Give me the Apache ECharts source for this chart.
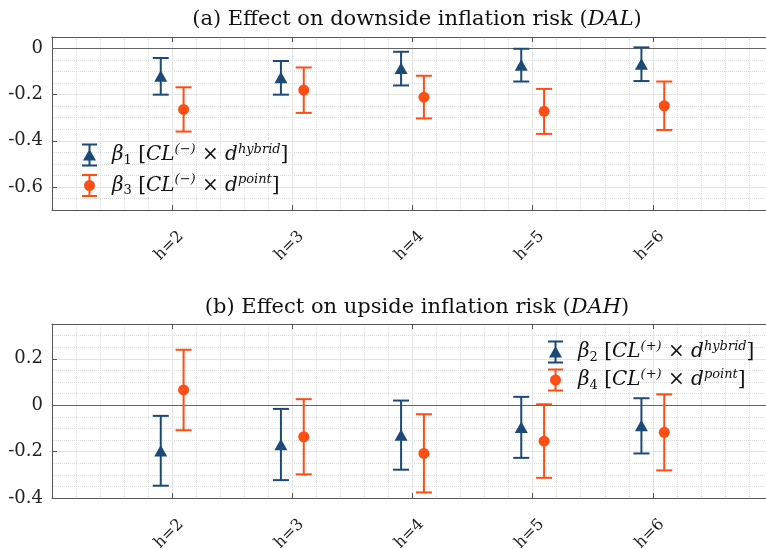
<!DOCTYPE html>
<html>
<head>
<meta charset="utf-8">
<script src="https://cdn.jsdelivr.net/npm/echarts@6/dist/echarts.min.js"></script>
<style>
  html, body { margin: 0; padding: 0; background: #ffffff; }
  #chart { width: 766px; height: 549px; }
</style>
</head>
<body>
<div id="chart"></div>
<script>
// ---------- data ----------
const horizons = [2, 3, 4, 5, 6];
const hLabels = ['h=2', 'h=3', 'h=4', 'h=5', 'h=6'];

// Panel (a): downside inflation risk (DAL)
const b1Est = [-0.120, -0.127, -0.087, -0.072, -0.068];
const b1Lo  = [-0.200, -0.200, -0.160, -0.143, -0.141];
const b1Hi  = [-0.041, -0.054, -0.014, -0.001, 0.005];
const b3Est = [-0.264, -0.180, -0.211, -0.272, -0.248];
const b3Lo  = [-0.360, -0.279, -0.303, -0.370, -0.353];
const b3Hi  = [-0.168, -0.082, -0.118, -0.175, -0.143];

// Panel (b): upside inflation risk (DAH)
const b2Est = [-0.197, -0.170, -0.129, -0.096, -0.089];
const b2Lo  = [-0.347, -0.323, -0.278, -0.227, -0.208];
const b2Hi  = [-0.046, -0.016, 0.020, 0.036, 0.030];
const b4Est = [0.066, -0.136, -0.208, -0.155, -0.117];
const b4Lo  = [-0.108, -0.298, -0.376, -0.313, -0.281];
const b4Hi  = [0.239, 0.026, -0.039, 0.004, 0.047];

// ---------- style ----------
const BLUE = '#1B4A78';
const ORANGE = '#FF4D14';
const SERIF = '"DejaVu Serif", "Liberation Serif", serif';
const OFFSET = 0.095;

function rows(est, lo, hi) {
  return horizons.map((h, i) => [h, est[i], lo[i], hi[i]]);
}

function makeRender(offset, shape, color) {
  return function (params, api) {
    const x = api.value(0) + offset;
    const pm = api.coord([x, api.value(1)]);
    const pl = api.coord([x, api.value(2)]);
    const ph = api.coord([x, api.value(3)]);
    const cw = 8;
    const ls = { stroke: color, lineWidth: 2 };
    const ch = [
      { type: 'line', shape: { x1: pl[0], y1: pl[1], x2: ph[0], y2: ph[1] }, style: ls },
      { type: 'line', shape: { x1: pl[0] - cw, y1: pl[1], x2: pl[0] + cw, y2: pl[1] }, style: ls },
      { type: 'line', shape: { x1: ph[0] - cw, y1: ph[1], x2: ph[0] + cw, y2: ph[1] }, style: ls }
    ];
    if (shape === 'triangle') {
      ch.push({ type: 'polygon', shape: { points: [[pm[0], pm[1] - 6], [pm[0] + 6.5, pm[1] + 5.5], [pm[0] - 6.5, pm[1] + 5.5]] }, style: { fill: color } });
    } else {
      ch.push({ type: 'circle', shape: { cx: pm[0], cy: pm[1], r: 5.5 }, style: { fill: color } });
    }
    return { type: 'group', children: ch };
  };
}

const triIcon = 'path://M0 0H15V2H8.5V21H15V23H0V21H6.5V2H0Z M7.5 5.5L14 17H1Z';
const cirIcon = 'path://M0 0H15V2H8.5V21H15V23H0V21H6.5V2H0Z M2 11.5A5.5 5.5 0 1 1 13 11.5A5.5 5.5 0 1 1 2 11.5Z';

const legendText = {
  b1: '{i|β}{sub|1}{r| [}{i|CL}{sup|(−)}{r| × }{i|d}{sup|hybrid}{r|]}',
  b3: '{i|β}{sub|3}{r| [}{i|CL}{sup|(−)}{r| × }{i|d}{sup|point}{r|]}',
  b2: '{i|β}{sub|2}{r| [}{i|CL}{sup|(+)}{r| × }{i|d}{sup|hybrid}{r|]}',
  b4: '{i|β}{sub|4}{r| [}{i|CL}{sup|(+)}{r| × }{i|d}{sup|point}{r|]}'
};

const legendRich = {
  i: { fontFamily: SERIF, fontStyle: 'italic', fontSize: 20, lineHeight: 24, color: '#111' },
  r: { fontFamily: SERIF, fontSize: 20, lineHeight: 24, color: '#111' },
  sup: { fontFamily: SERIF, fontStyle: 'italic', fontSize: 13, lineHeight: 12, verticalAlign: 'top', color: '#111' },
  sub: { fontFamily: SERIF, fontSize: 13, lineHeight: 12, verticalAlign: 'bottom', color: '#111' }
};

const panelRects = [
  { left: 52, width: 721, top: 37, height: 173 },
  { left: 52, width: 721, top: 324, height: 174 }
];
const yRanges = [[-0.7, 0.05], [-0.4, 0.35]];

function yLabel(v) {
  const k = v / 0.2;
  if (Math.abs(k - Math.round(k)) > 1e-6) return '';
  const r = Math.round(k) * 0.2;
  if (Math.abs(r) < 1e-9) return '0';
  return String(+r.toFixed(1));
}

const AXIS_COLOR = '#555';
const grids = [];
const xAxes = [];
const yAxes = [];
// grids 0,1: main panels; grids 2,3: minor horizontal grid under them
[0, 1, 2, 3].forEach(k => {
  grids.push(Object.assign({ outerBoundsMode: 'none', containLabel: false }, panelRects[k % 2]));
});
[0, 1].forEach(g => {
  xAxes.push({
    type: 'value', gridIndex: g, position: 'bottom', min: 1, max: 7, interval: 1, z: 4,
    axisLine: { show: true, onZero: false, lineStyle: { color: AXIS_COLOR, width: 1 } },
    axisTick: { show: true, inside: true, length: 5, lineStyle: { color: AXIS_COLOR } },
    axisLabel: {
      rotate: 45, margin: 15, verticalAlign: 'top', lineHeight: 25,
      fontFamily: SERIF, fontSize: 16, color: '#222',
      formatter: v => { const i = horizons.indexOf(v); return i >= 0 ? hLabels[i] : ''; }
    },
    splitLine: { show: true, showMinLine: false, showMaxLine: false, lineStyle: { color: '#e4e4e4', width: 1 } },
    minorTick: { show: false, splitNumber: 5 },
    minorSplitLine: { show: true, lineStyle: { color: '#dddddd', type: 'dotted', width: 1 } }
  });
  xAxes.push({
    type: 'value', gridIndex: g, position: 'top', min: 1, max: 7, interval: 1, z: 4,
    axisLine: { show: true, onZero: false, lineStyle: { color: AXIS_COLOR, width: 1 } },
    axisTick: { show: true, inside: true, length: 5, lineStyle: { color: AXIS_COLOR } },
    axisLabel: { show: false }, splitLine: { show: false }
  });
  yAxes.push({
    type: 'value', gridIndex: g, position: 'left', min: yRanges[g][0], max: yRanges[g][1],
    splitNumber: 4, minInterval: 0.2, maxInterval: 0.2, z: 4,
    axisLine: { show: true, onZero: false, lineStyle: { color: AXIS_COLOR, width: 1 } },
    axisTick: { show: true, inside: true, length: 5, lineStyle: { color: AXIS_COLOR } },
    axisLabel: { margin: 9, fontFamily: SERIF, fontSize: 18, color: '#222', formatter: yLabel },
    splitLine: { show: true, showMinLine: false, showMaxLine: false, lineStyle: { color: '#e4e4e4', width: 1 } }
  });
});
// minor horizontal grid (own grids, hidden axes)
[0, 1].forEach(g => {
  xAxes.push({
    type: 'value', gridIndex: g + 2, min: 1, max: 7, interval: 1, show: false, z: 0
  });
  yAxes.push({
    type: 'value', gridIndex: g + 2, min: yRanges[g][0], max: yRanges[g][1], interval: 0.05, z: 0,
    axisLine: { show: false, onZero: false }, axisTick: { show: false }, axisLabel: { show: false },
    splitLine: { show: true, showMinLine: false, showMaxLine: false, lineStyle: { color: '#dddddd', type: 'dotted', width: 1 } }
  });
});

const zeroLine = {
  silent: true, symbol: 'none', label: { show: false },
  lineStyle: { color: '#666', type: 'solid', width: 1.2 },
  data: [{ yAxis: 0 }], animation: false
};

function series(name, g, offset, shape, color, data, withZero) {
  const s = {
    name: name, type: 'custom', xAxisIndex: g * 2, yAxisIndex: g,
    renderItem: makeRender(offset, shape, color),
    encode: { x: 0, y: [1, 2, 3] },
    itemStyle: { color: color },
    data: data, z: 5
  };
  if (withZero) s.markLine = zeroLine;
  return s;
}

const titleStyle = {
  fontFamily: SERIF, fontSize: 21, fontWeight: 'normal', color: '#111',
  rich: { it: { fontFamily: SERIF, fontSize: 21, fontStyle: 'italic', color: '#111' } }
};

const option = {
  animation: false,
  backgroundColor: '#ffffff',
  title: [
    { text: '(a) Effect on downside inflation risk ({it|DAL})', left: 412, top: 4, textAlign: 'center', textStyle: titleStyle },
    { text: '(b) Effect on upside inflation risk ({it|DAH})', left: 412, top: 292, textAlign: 'center', textStyle: titleStyle }
  ],
  legend: [
    {
      orient: 'vertical', left: 77, top: 138, itemWidth: 15, itemHeight: 23, itemGap: 6.5,
      data: [{ name: 'b1', icon: triIcon }, { name: 'b3', icon: cirIcon }],
      formatter: n => legendText[n],
      textStyle: { padding: [0, 0, 0, 10], rich: legendRich },
      selectedMode: false
    },
    {
      orient: 'vertical', left: 543, top: 335, itemWidth: 15, itemHeight: 23, itemGap: 4,
      data: [{ name: 'b2', icon: triIcon }, { name: 'b4', icon: cirIcon }],
      formatter: n => legendText[n],
      textStyle: { padding: [0, 0, 0, 10], rich: legendRich },
      selectedMode: false
    }
  ],
  grid: grids,
  xAxis: xAxes,
  yAxis: yAxes,
  series: [
    series('b1', 0, -OFFSET, 'triangle', BLUE, rows(b1Est, b1Lo, b1Hi), true),
    series('b3', 0, OFFSET, 'circle', ORANGE, rows(b3Est, b3Lo, b3Hi), false),
    series('b2', 1, -OFFSET, 'triangle', BLUE, rows(b2Est, b2Lo, b2Hi), true),
    series('b4', 1, OFFSET, 'circle', ORANGE, rows(b4Est, b4Lo, b4Hi), false)
  ]
};

const chart = echarts.init(document.getElementById('chart'), null, { renderer: 'canvas' });
chart.setOption(option);
</script>
</body>
</html>
